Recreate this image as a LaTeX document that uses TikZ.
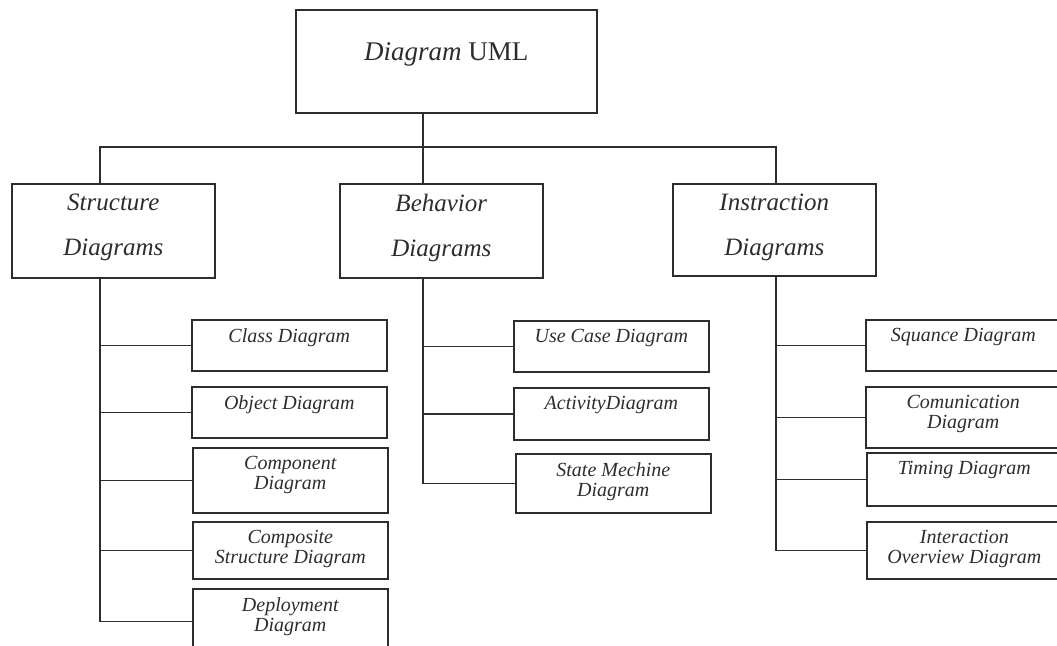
\documentclass[tikz,border=0pt]{standalone}
\usepackage{fontspec}
\setmainfont{Liberation Serif}
\definecolor{ink}{RGB}{45,45,45}
\tikzset{
  box/.style={draw=ink, line width=1.6pt, rectangle, inner sep=0pt, anchor=north west},
  textbase/.style={anchor=north, inner sep=0pt, align=center, text=ink},
  boxtext/.style={textbase, yshift=-9pt, font=\itshape\fontsize{20}{20}\selectfont},
  headtext/.style={textbase, yshift=-11pt, font=\itshape\fontsize{25}{45}\selectfont},
  head/.style={box, minimum width=203, minimum height=94, label={[headtext]90:#1}},
  leaf/.style={box, minimum width=195, label={[boxtext]90:#1}},
  wire/.style={draw=ink, line width=1.6pt}
}
\begin{document}
\begin{tikzpicture}[x=1pt, y=-1pt]
    \useasboundingbox (0,0) rectangle (1057,645);

    \node[box, minimum width=301, minimum height=103, label={[textbase, anchor=base, yshift=-51pt, font=\fontsize{27}{30}\selectfont]90:\textit{Diagram} UML}] (uml) at (295,9) {};

    \node[head={Structure\\Diagrams}] (str) at (11,183) {};
    \node[head={Behavior\\Diagrams}] (beh) at (339,183) {};
    \node[head={Instraction\\Diagrams}, minimum height=92] (ins) at (672,183) {};

    \node[leaf={Class Diagram}, minimum height=51] (class) at (191,319) {};
    \node[leaf={Object Diagram}, minimum height=51] (object) at (191,386) {};
    \node[leaf={Component\\Diagram}, minimum height=65] (component) at (192,447) {};
    \node[leaf={Composite\\Structure Diagram}, minimum height=57] (composite) at (192,521) {};
    \node[leaf={Deployment\\Diagram}, minimum height=65] (deploy) at (192,588) {};

    \node[leaf={Use Case Diagram}, minimum height=51] (usecase) at (513,320) {};
    \node[leaf={ActivityDiagram}, minimum height=52] (activity) at (513,387) {};
    \node[leaf={State Mechine\\Diagram}, minimum height=59] (state) at (515,453) {};

    \node[leaf={Squance Diagram}, minimum height=51] (squance) at (865,319) {};
    \node[leaf={Comunication\\Diagram}, minimum height=61] (comm) at (865,386) {};
    \node[leaf={Timing Diagram}, minimum height=53] (timing) at (866,452) {};
    \node[leaf={Interaction\\Overview Diagram}, minimum height=57] (interact) at (866,521) {};

    \coordinate (strx) at (100,0);
    \coordinate (behx) at (423,0);
    \coordinate (insx) at (776,0);
    \coordinate (bus) at (423,147);

    \draw[wire] (uml.south -| behx) -- (beh.north -| behx);
    \draw[wire] (str.north -| strx) |- (bus) -| (ins.north -| insx);

    \draw[wire] (str.south -| strx) |- (deploy.west);
    \foreach \x in {class, object, component, composite}
        \draw[wire] (\x.west -| strx) -- (\x.west);
    \draw[wire] (beh.south -| behx) |- (state.west);
    \foreach \x in {usecase, activity}
        \draw[wire] (\x.west -| behx) -- (\x.west);
    \draw[wire] (ins.south -| insx) |- (interact.west);
    \foreach \x in {squance, comm, timing}
        \draw[wire] (\x.west -| insx) -- (\x.west);
\end{tikzpicture}
\end{document}
